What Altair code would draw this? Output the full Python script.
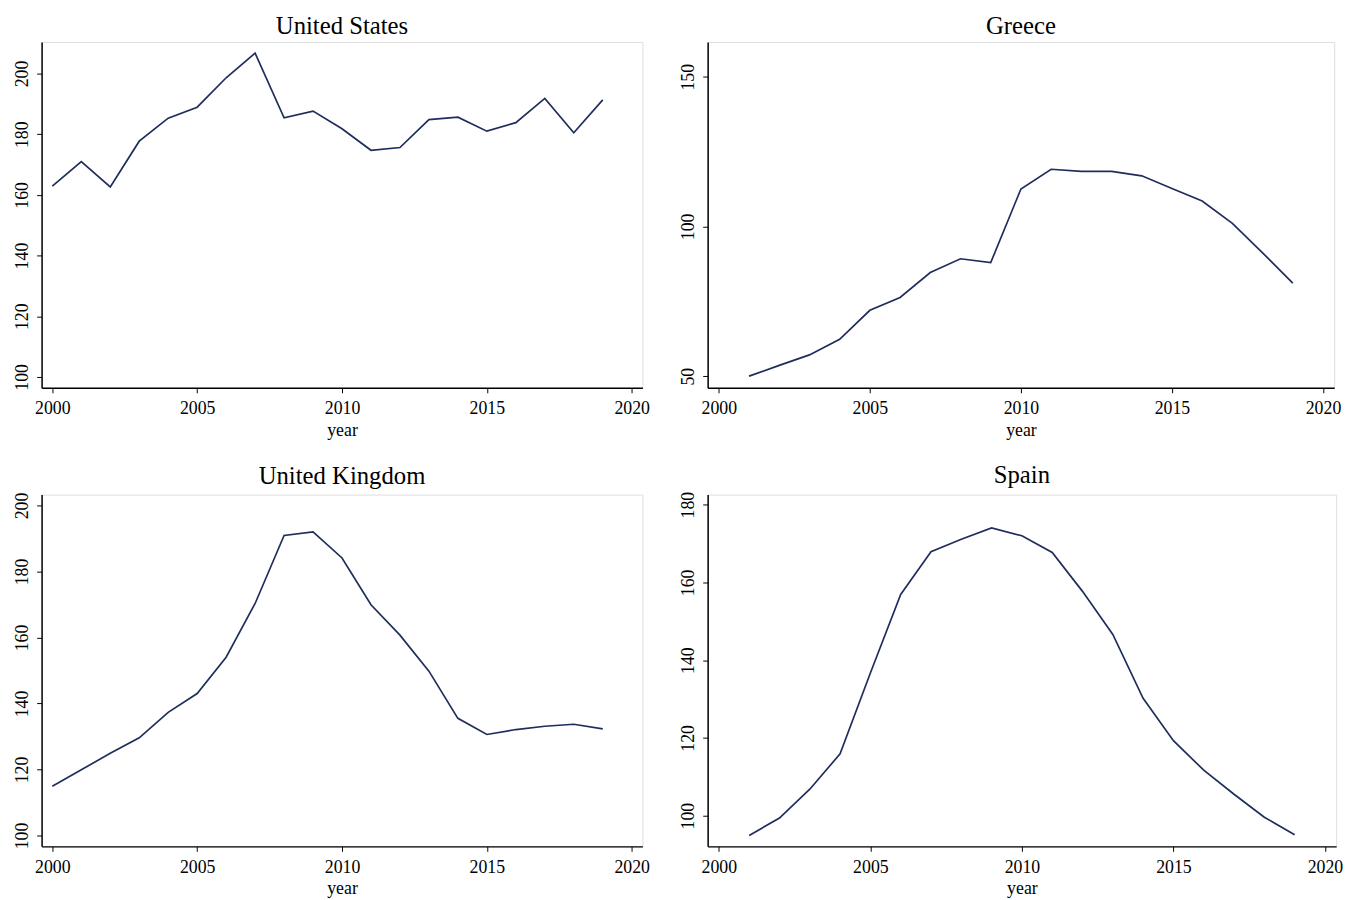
import altair as alt
import pandas as pd

# ---- data ----
us_years = list(range(2000, 2020))
us_values = [162.9, 171.0, 162.6, 177.7, 185.3, 188.9, 198.6, 206.7, 185.4, 187.6,
             181.8, 174.7, 175.6, 184.8, 185.6, 181.0, 183.8, 191.8, 180.5, 191.3]

gr_years = list(range(2001, 2020))
gr_values = [50.0, 53.6, 57.1, 62.3, 72.0, 76.3, 84.6, 89.2, 87.9, 112.5,
             119.1, 118.4, 118.4, 116.9, 112.7, 108.5, 101.0, 91.2, 81.1]

uk_years = list(range(2000, 2020))
uk_values = [114.9, 119.9, 124.9, 129.6, 137.3, 143.0, 154.0, 170.3, 190.9, 192.0,
             184.1, 169.9, 160.7, 149.8, 135.5, 130.6, 132.1, 133.1, 133.7, 132.3]

es_years = list(range(2001, 2020))
es_values = [94.9, 99.4, 106.8, 115.9, 136.7, 156.9, 167.9, 171.1, 174.0, 172.0,
             167.7, 157.7, 146.6, 130.2, 119.3, 111.7, 105.5, 99.6, 95.1]

x_ticks = [2000, 2005, 2010, 2015, 2020]
us_yticks = [100, 120, 140, 160, 180, 200]
gr_yticks = [50, 100, 150]
uk_yticks = [100, 120, 140, 160, 180, 200]
es_yticks = [100, 120, 140, 160, 180]

FONT = "Liberation Serif"
LINE = "#1f2d5c"


def panel(name, years, values, ydom, yticks, w, h):
    df = pd.DataFrame({"year": years, "value": values})
    return (
        alt.Chart(
            df,
            title=alt.Title(name, font=FONT, fontSize=25, fontWeight="normal",
                            color="black", anchor="middle", frame="group", offset=3),
        )
        .mark_line(color=LINE, strokeWidth=1.7)
        .encode(
            x=alt.X(
                "year:Q",
                scale=alt.Scale(domain=[1999.63, 2020.37], nice=False, zero=False),
                axis=alt.Axis(values=x_ticks, format="d", title="year", grid=False,
                              labelFont=FONT, labelFontSize=18, labelColor="black",
                              labelPadding=7, titleFont=FONT, titleFontSize=18,
                              titleFontWeight="normal", titleColor="black",
                              titlePadding=4, tickSize=5, tickColor="black",
                              domainColor="black", domainWidth=1.5,
                              labelFlush=False),
            ),
            y=alt.Y(
                "value:Q",
                scale=alt.Scale(domain=ydom, nice=False, zero=False),
                axis=alt.Axis(values=yticks, title=None, grid=False,
                              labelAngle=270, labelAlign="center",
                              labelBaseline="bottom", labelFont=FONT,
                              labelFontSize=18, labelColor="black",
                              labelPadding=5, tickSize=5, tickColor="black",
                              domainColor="black", domainWidth=1.5,
                              labelFlush=False),
            ),
        )
        .properties(width=w, height=h)
    )


p_us = panel("United States", us_years, us_values, [96.4, 210.4], us_yticks, 608, 350)
p_gr = panel("Greece", gr_years, gr_values, [46.1, 161.6], gr_yticks, 634, 350)
p_uk = panel("United Kingdom", uk_years, uk_values, [96.7, 203.3], uk_yticks, 608, 356)
p_es = panel("Spain", es_years, es_values, [92.1, 182.6], es_yticks, 636, 356)

chart = (
    alt.concat(p_us, p_gr, p_uk, p_es, columns=2,
               spacing={"row": 108, "column": 66}, bounds="flush")
    .properties(padding={"left": 5, "top": 0, "right": 5, "bottom": 5})
    .configure_view(stroke="#666666", strokeWidth=1.5)
    .configure(background="white")
)

chart.save("out.html", embed_options={"renderer": "svg", "actions": False})
